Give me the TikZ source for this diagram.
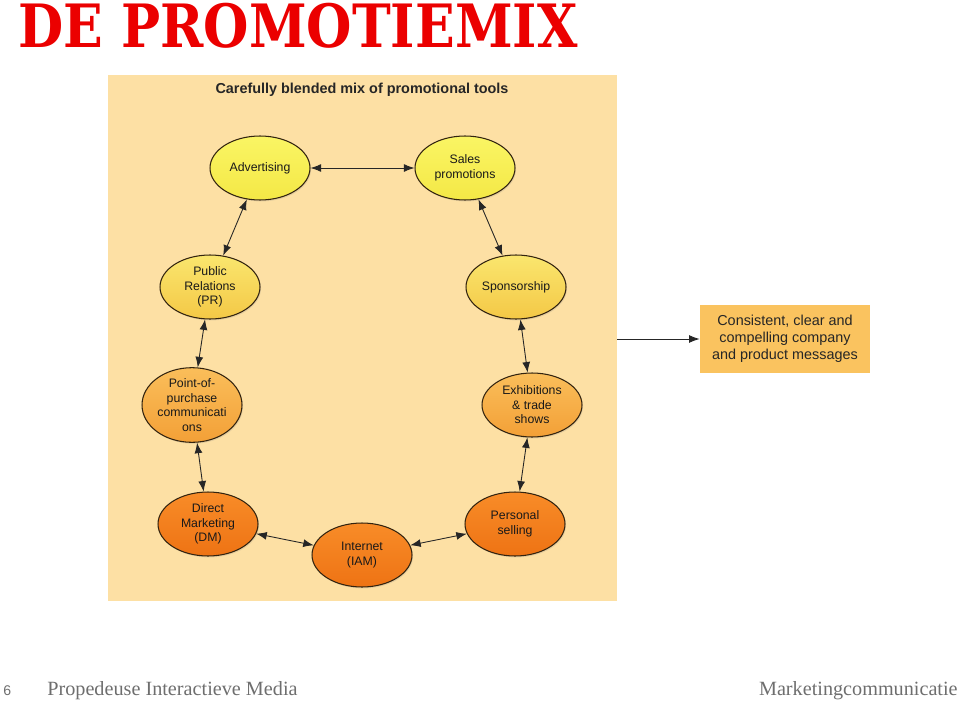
\documentclass[tikz,border=0pt]{standalone}
\usepackage{fontspec}
\setmainfont{Liberation Sans}
\newfontfamily\slabfont{DejaVu Serif}
\newfontfamily\footfont{Liberation Serif}
\usetikzlibrary{arrows.meta,shapes.geometric,shadows}

\definecolor{panelbg}{RGB}{253,224,164}
\definecolor{yellowtop}{RGB}{250,245,100}
\definecolor{yellowbot}{RGB}{244,232,70}
\definecolor{goldtop}{RGB}{250,230,110}
\definecolor{goldbot}{RGB}{244,200,70}
\definecolor{amtop}{RGB}{250,190,90}
\definecolor{ambot}{RGB}{243,160,55}
\definecolor{ortop}{RGB}{248,140,40}
\definecolor{orbot}{RGB}{238,115,20}
\definecolor{msgbox}{RGB}{250,195,95}
\definecolor{rimcol}{RGB}{50,35,15}
\definecolor{footgray}{RGB}{110,110,110}

\tikzset{
  tool/.style={ellipse, draw=rimcol, line width=0.6pt, minimum width=2cm,
    minimum height=1.28cm, inner sep=0pt, align=center,
    font=\fontsize{7}{8.3}\selectfont, text=black!90,
    drop shadow={opacity=0.2, shadow xshift=0.6pt, shadow yshift=-0.8pt}},
  toolyellow/.style={tool, top color=yellowtop, bottom color=yellowbot},
  toolgold/.style={tool, top color=goldtop, bottom color=goldbot},
  toolamber/.style={tool, top color=amtop, bottom color=ambot},
  toolorange/.style={tool, top color=ortop, bottom color=orbot},
  link/.style={{Latex[length=6pt,width=4.5pt]}-{Latex[length=6pt,width=4.5pt]}, line width=0.5pt, black!85},
}

\begin{document}
\begin{tikzpicture}[x=0.02cm, y=-0.02cm]
  \useasboundingbox (0,0) rectangle (960,703);

  % title
  \node[anchor=north west, inner sep=0pt, text={rgb,255:red,235;green,0;blue,0}] (title) at (18,3)
    {\scalebox{0.872}[1]{\slabfont\bfseries\fontsize{34}{34}\selectfont DE PROMOTIEMIX}};

  % panel
  \fill[panelbg] (108,75) rectangle (617,601);
  \node[font=\bfseries\fontsize{8.2}{9}\selectfont, text=black!85] (heading) at (362,90)
    {Carefully blended mix of promotional tools};

  % tools
  \node[toolyellow] (adv) at (260,168) {Advertising};
  \node[toolyellow] (sales) at (465,168) {Sales\\promotions};
  \node[toolgold] (pr) at (210,287) {Public\\Relations\\(PR)};
  \node[toolgold] (spons) at (516,287) {Sponsorship};
  \node[toolamber] (pop) at (192,405) {Point-of-\\purchase\\communicati\\ons};
  \node[toolamber] (exhib) at (532,405) {Exhibitions\\\& trade\\shows};
  \node[toolorange] (dm) at (208,524) {Direct\\Marketing\\(DM)};
  \node[toolorange] (iam) at (362,555) {Internet\\(IAM)};
  \node[toolorange] (pers) at (515,524) {Personal\\selling};

  \draw[link] (adv) -- (sales);
  \draw[link] (adv) -- (pr);
  \draw[link] (sales) -- (spons);
  \draw[link] (pr) -- (pop);
  \draw[link] (spons) -- (exhib);
  \draw[link] (pop) -- (dm);
  \draw[link] (exhib) -- (pers);
  \draw[link] (dm) -- (iam);
  \draw[link] (iam) -- (pers);

  % outcome
  \node[fill=msgbox, minimum width=3.4cm, minimum height=1.38cm, align=center,
    font=\fontsize{8.2}{9.6}\selectfont, text=black!85] (msg) at (785,339)
    {Consistent, clear and\\compelling company\\and product messages};
  \coordinate (panelout) at (617,339);
  \draw[-{Latex[length=6pt,width=4.5pt]}, line width=0.5pt, black!85] (panelout) -- (msg);

  % footer
  \node[anchor=base west, inner sep=0pt, text=footgray, font=\fontsize{8}{8}\selectfont] (pagenr) at (3,695) {6};
  \node[anchor=base west, inner sep=0pt, text=footgray, font=\footfont\fontsize{11.5}{12}\selectfont] (course) at (47,695) {Propedeuse Interactieve Media};
  \node[anchor=base east, inner sep=0pt, text=footgray, font=\footfont\fontsize{11.5}{12}\selectfont] (topic) at (958,695) {Marketingcommunicatie};
\end{tikzpicture}
\end{document}
